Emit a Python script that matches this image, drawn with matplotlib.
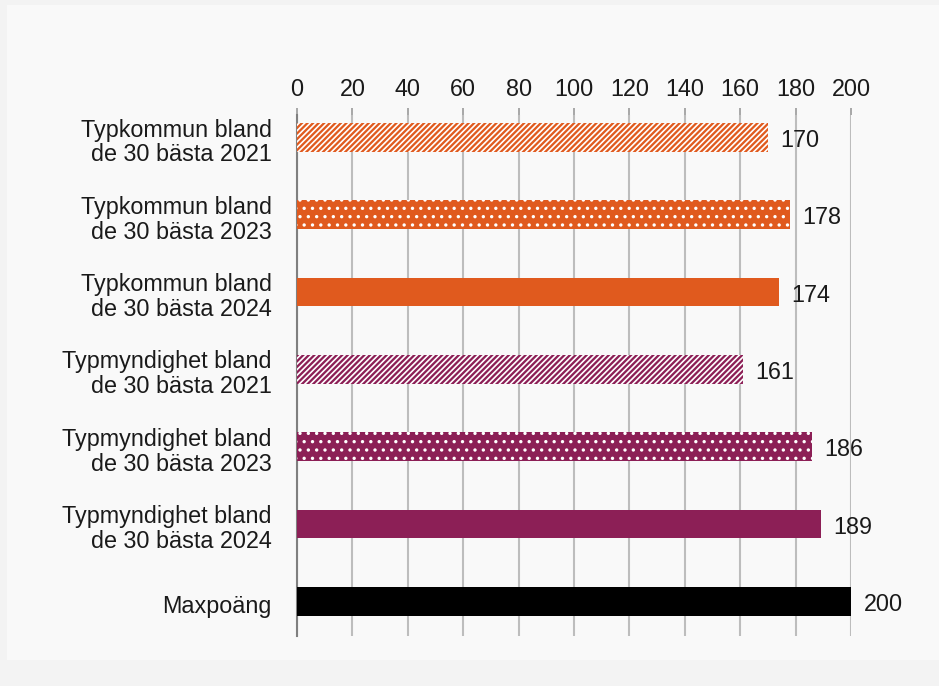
import matplotlib.pyplot as plt
import matplotlib.transforms as mtransforms
from matplotlib.patches import Rectangle

plt.rcParams['font.family'] = ['Liberation Sans', 'DejaVu Sans']
plt.rcParams['hatch.linewidth'] = 1.2

labels = ['Typkommun bland\nde 30 bästa 2021',
          'Typkommun bland\nde 30 bästa 2023',
          'Typkommun bland\nde 30 bästa 2024',
          'Typmyndighet bland\nde 30 bästa 2021',
          'Typmyndighet bland\nde 30 bästa 2023',
          'Typmyndighet bland\nde 30 bästa 2024',
          'Maxpoäng']
values = [170, 178, 174, 161, 186, 189, 200]
colors = ['#e05a1e', '#e05a1e', '#e05a1e', '#8c1f56', '#8c1f56', '#8c1f56', '#000000']
hatches = ['//////', '..', None, '//////', '..', None, None]
xticks = list(range(0, 201, 20))

fig = plt.figure(figsize=(9.39, 6.86), dpi=100, facecolor='#f3f3f3')
# light panel behind the chart
fig.patches.append(Rectangle((7 / 939, 1 - 660 / 686), 1, 655 / 686,
                             transform=fig.transFigure, facecolor='#f9f9f9',
                             edgecolor='none', zorder=-5))

ax = fig.add_axes([297 / 939, 1 - 636 / 686, 554 / 939, 521 / 686])
ax.set_facecolor('none')

ypos = list(range(len(values)))
for y, v, c, h in zip(ypos, values, colors, hatches):
    if h:
        ax.barh(y, v, height=0.37, color=c, edgecolor='white', linewidth=0,
                hatch=h, zorder=3)
    else:
        ax.barh(y, v, height=0.37, color=c, linewidth=0, zorder=3)
    ax.text(v + 4.5, y + 0.04, str(v), va='center', ha='left', fontsize=16.8,
            color='#1a1a1a')

ax.set_xlim(0, 200)
ax.set_ylim(6.45, -0.29)
ax.set_xticks(xticks)
ax.xaxis.tick_top()
ax.tick_params(axis='x', labelsize=16.8, colors='#9a9a9a', labelcolor='#1a1a1a',
               length=5, width=1.2, pad=5)
ax.set_yticks(ypos)
ax.set_yticklabels(labels, fontsize=16.8, color='#1a1a1a', linespacing=1.1,
                   va='center')
ax.tick_params(axis='y', length=0, pad=18)

# nudge y labels down a little
shift = mtransforms.ScaledTranslation(0, -5 / 100, fig.dpi_scale_trans)
for t in ax.get_yticklabels():
    t.set_transform(t.get_transform() + shift)

ax.grid(axis='x', color='#bdbdbd', linewidth=1.5, zorder=0)
for s in ['top', 'right', 'bottom']:
    ax.spines[s].set_visible(False)
ax.spines['left'].set_color('#808080')
ax.spines['left'].set_linewidth(1.5)

plt.savefig('out.png', dpi=100, facecolor=fig.get_facecolor())
